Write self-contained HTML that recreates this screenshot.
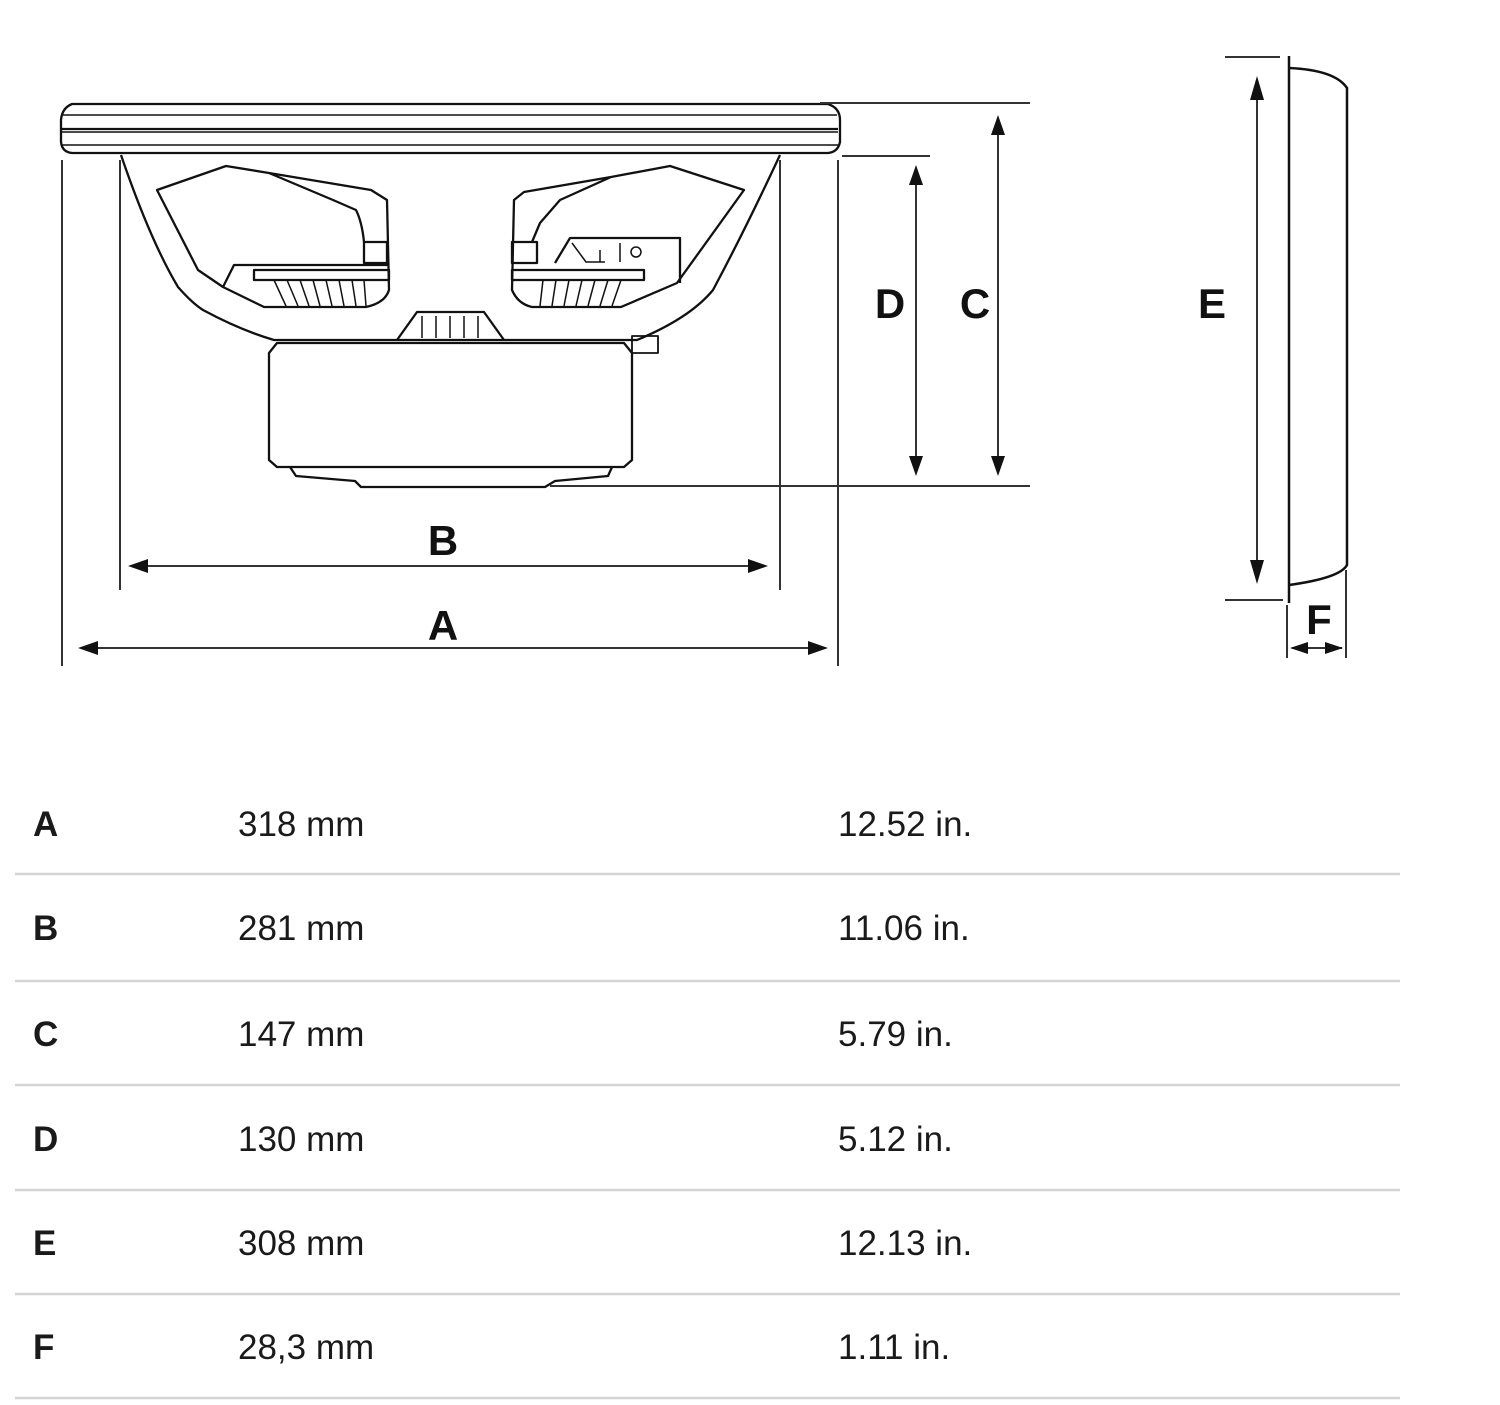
<!DOCTYPE html>
<html><head><meta charset="utf-8"><style>
html,body{margin:0;padding:0;background:#fff;width:1500px;height:1405px;overflow:hidden}
svg{position:absolute;left:0;top:0}
</style></head><body>
<svg width="1500" height="1405" viewBox="0 0 1500 1405" xmlns="http://www.w3.org/2000/svg">
<g fill="none" stroke="#111" stroke-width="2.3" stroke-linejoin="round">
<!-- frame rim -->
<path d="M72 104 L828 104 Q840 108 840 120 L840 142 Q838 152 828 153 L72 153 Q62 152 61 142 L61 120 Q62 108 72 104 Z"/>
<line x1="63" y1="115" x2="837" y2="115" stroke-width="1.4"/>
<line x1="62" y1="129" x2="838" y2="129"/>
<line x1="62" y1="132" x2="838" y2="132" stroke-width="1.4"/>
<line x1="62" y1="145" x2="838" y2="145" stroke-width="1.6"/>
<!-- basket -->
<path d="M121 155 Q150 240 178 287 Q192 303 203 310 Q240 330 274 340 L637 340 Q690 318 713 290 Q745 230 780 155"/>
<!-- left window -->
<path d="M157 190 L226 166 L269 173 L371 190 L387 200 L389 290 Q385 303 366 307 L264 307 L223 287 L198 270 Z"/>
<path d="M269 173 L333 200 L356 210 Q362 222 364 242"/>
<rect x="364" y="242" width="23" height="21"/>
<path d="M223 287 L234 265 L389 265"/>
<rect x="254" y="270" width="135" height="10"/>
<g stroke-width="1.5">
<line x1="274" y1="280" x2="286" y2="306"/><line x1="287" y1="280" x2="298" y2="306"/>
<line x1="300" y1="280" x2="309" y2="306"/><line x1="313" y1="280" x2="320" y2="306"/>
<line x1="326" y1="280" x2="332" y2="306"/><line x1="339" y1="280" x2="344" y2="306"/>
<line x1="352" y1="280" x2="356" y2="306"/><line x1="364" y1="280" x2="366" y2="306"/>
</g>
<!-- right window -->
<path d="M744 190 L670 166 L611 177 L524 192 L514 200 L512 290 Q518 304 532 307 L621 307 L677 283 Z"/>
<path d="M611 177 L560 200 L540 223 L532 242"/>
<rect x="512" y="242" width="25" height="21"/>
<path d="M555 263 L570 238 L680 238 L680 283"/>
<rect x="512" y="270" width="132" height="10"/>
<g stroke-width="1.5">
<line x1="543" y1="280" x2="540" y2="306"/><line x1="556" y1="280" x2="552" y2="306"/>
<line x1="569" y1="280" x2="564" y2="306"/><line x1="582" y1="280" x2="576" y2="306"/>
<line x1="595" y1="280" x2="588" y2="306"/><line x1="608" y1="280" x2="600" y2="306"/>
<line x1="621" y1="280" x2="612" y2="306"/>
<circle cx="636" cy="252" r="5"/>
<path d="M572 243 L586 262 L605 262 M600 250 L600 262 M620 243 L620 262"/>
</g>
<!-- pole piece -->
<path d="M397 340 L417 312 L484 312 L504 340"/>
<g stroke-width="1.5">
<line x1="422" y1="316" x2="422" y2="338"/><line x1="436" y1="316" x2="436" y2="338"/>
<line x1="450" y1="316" x2="450" y2="338"/><line x1="464" y1="316" x2="464" y2="338"/>
<line x1="478" y1="316" x2="478" y2="338"/>
</g>
<!-- magnet -->
<path d="M277 343 L624 343 L632 353 L632 460 L624 467 L277 467 L269 460 L269 353 Z"/>
<path d="M290 467 L296 476 L355 481 L361 487 L545 487 L555 481 L608 476 L612 467"/>
<rect x="632" y="336" width="26" height="17" stroke-width="1.8"/>
</g>
<!-- dimension lines -->
<g stroke="#333" stroke-width="2" fill="none">
<line x1="62" y1="160" x2="62" y2="666"/>
<line x1="120" y1="160" x2="120" y2="590"/>
<line x1="780" y1="160" x2="780" y2="590"/>
<line x1="838" y1="160" x2="838" y2="666"/>
<line x1="820" y1="103" x2="1030" y2="103"/>
<line x1="842" y1="156" x2="930" y2="156"/>
<line x1="550" y1="486" x2="1030" y2="486"/>
<line x1="916" y1="172" x2="916" y2="470"/>
<line x1="998" y1="122" x2="998" y2="470"/>
<line x1="134" y1="566" x2="762" y2="566"/>
<line x1="84" y1="648" x2="822" y2="648"/>
<line x1="1225" y1="57" x2="1280" y2="57"/>
<line x1="1225" y1="600" x2="1283" y2="600"/>
<line x1="1257" y1="82" x2="1257" y2="578"/>
<line x1="1287" y1="605" x2="1287" y2="658"/>
<line x1="1346" y1="570" x2="1346" y2="658"/>
<line x1="1292" y1="648" x2="1342" y2="648"/>
</g>
<g fill="#111">
<polygon points="916,165 909,185 923,185"/>
<polygon points="916,476 909,456 923,456"/>
<polygon points="998,115 991,135 1005,135"/>
<polygon points="998,476 991,456 1005,456"/>
<polygon points="128,566 148,559 148,573"/>
<polygon points="768,566 748,559 748,573"/>
<polygon points="78,648 98,641 98,655"/>
<polygon points="828,648 808,641 808,655"/>
<polygon points="1257,76 1250,100 1264,100"/>
<polygon points="1257,584 1250,560 1264,560"/>
<polygon points="1290,648 1308,642 1308,654"/>
<polygon points="1343,648 1325,642 1325,654"/>
</g>
<g fill="none" stroke="#111" stroke-width="2.5">
<line x1="1289" y1="56" x2="1289" y2="603"/>
<path d="M1289 68 Q1335 70 1347 88 L1347 565 Q1340 578 1289 585"/>
</g>
<g font-family="'Liberation Sans',sans-serif" font-weight="bold" font-size="42" fill="#111" text-anchor="middle">
<text x="890" y="318">D</text>
<text x="975" y="318">C</text>
<text x="1212" y="318">E</text>
<text x="443" y="555">B</text>
<text x="443" y="640">A</text>
<text x="1319" y="634">F</text>
</g>
<g stroke="#d4d4d4" stroke-width="2.5">
<line x1="15" y1="874" x2="1400" y2="874"/>
<line x1="15" y1="981" x2="1400" y2="981"/>
<line x1="15" y1="1085" x2="1400" y2="1085"/>
<line x1="15" y1="1190" x2="1400" y2="1190"/>
<line x1="15" y1="1294" x2="1400" y2="1294"/>
<line x1="15" y1="1398" x2="1400" y2="1398"/>
</g>
<g font-family="'Liberation Sans',sans-serif" font-size="35" fill="#1a1a1a">
<g font-weight="bold">
<text x="33" y="836">A</text>
<text x="33" y="940">B</text>
<text x="33" y="1046">C</text>
<text x="33" y="1151">D</text>
<text x="33" y="1255">E</text>
<text x="33" y="1359">F</text>
</g>
<text x="238" y="836">318 mm</text>
<text x="238" y="940">281 mm</text>
<text x="238" y="1046">147 mm</text>
<text x="238" y="1151">130 mm</text>
<text x="238" y="1255">308 mm</text>
<text x="238" y="1359">28,3 mm</text>
<text x="838" y="836">12.52 in.</text>
<text x="838" y="940">11.06 in.</text>
<text x="838" y="1046">5.79 in.</text>
<text x="838" y="1151">5.12 in.</text>
<text x="838" y="1255">12.13 in.</text>
<text x="838" y="1359">1.11 in.</text>
</g>
</svg>
</body></html>
